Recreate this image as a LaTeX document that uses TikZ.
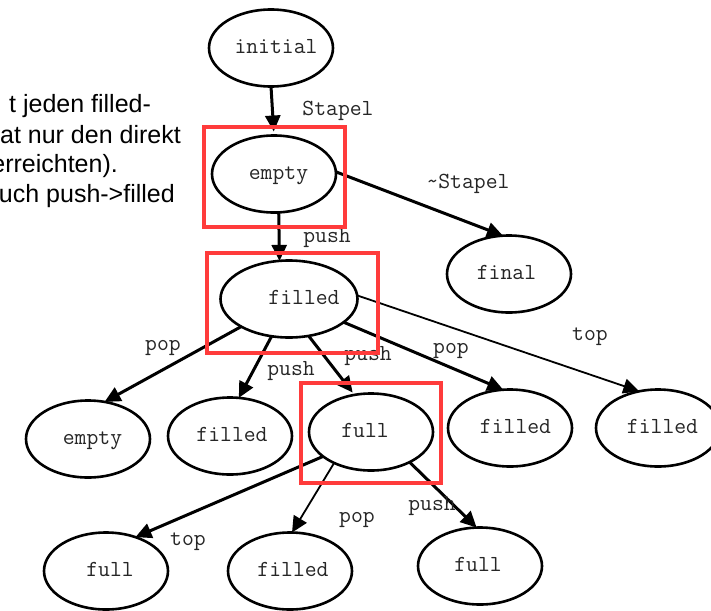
\documentclass[tikz,border=0pt]{standalone}
\usepackage{fontspec}
\setmainfont{Liberation Sans}
\usetikzlibrary{arrows.meta,shapes.geometric}
\definecolor{boxred}{RGB}{255,59,59}
\begin{document}
\begin{tikzpicture}[x=1pt,y=-1pt,
  stnode/.style={draw, ellipse, line width=2.6pt, minimum width=124pt,
    minimum height=77pt, inner sep=0pt, outer sep=0pt},
  widenode/.style={minimum width=137pt},
  statetext/.style={font=\ttfamily\fontsize{23}{27}\selectfont, text=black!85,
    text height=13pt, text depth=3pt, inner sep=0pt},
  trans/.style={line width=3pt, -{Triangle[length=16pt,width=15pt]}},
  transthin/.style={line width=1.8pt, -{Triangle[length=16pt,width=15pt]}},
  elabel/.style={font=\ttfamily\fontsize{23}{27}\selectfont, text=black!85,
    anchor=base, inner sep=0pt},
  focusbox/.style={draw=boxred, line width=4pt},
  notetext/.style={font=\fontsize{25}{30}\selectfont, anchor=base east, inner sep=0pt}
]
\useasboundingbox (0,0) rectangle (711,610);
\clip (0,0) rectangle (711,610);

% side note (runs past the left edge)
\node[notetext, anchor=base west] (n1) at (9,112) {t jeden filled-};
\node[notetext] (n2) at (181,143) {at nur den direkt};
\node[notetext] (n3) at (118,172) {erreichten).};
\node[notetext] (n4) at (175,202) {uch push->filled};

% states
\node[stnode, label={[statetext, xshift=5pt]center:initial}] (init) at (271,48) {};
\node[stnode, label={[statetext, xshift=4.5pt]center:empty}] (empty1) at (274,174) {};
\node[stnode, label={[statetext, xshift=-2.5pt]center:final}] (final) at (509,274) {};
\node[stnode, widenode, label={[statetext, xshift=15pt]center:filled}] (fill1) at (289,299) {};
\node[stnode, label={[statetext, xshift=4.5pt]center:empty}] (empty2) at (88,439) {};
\node[stnode, label={[statetext, xshift=2pt]center:filled}] (fill2) at (230,436) {};
\node[stnode, label={[statetext, xshift=-6pt]center:full}] (full1) at (371,432) {};
\node[stnode, label={[statetext, xshift=5.5pt]center:filled}] (fill3) at (510,428) {};
\node[stnode, label={[statetext, xshift=4.5pt]center:filled}] (fill4) at (658,428) {};
\node[stnode, label={[statetext, xshift=4pt]center:full}] (full2) at (106,571) {};
\node[stnode, label={[statetext, xshift=3pt]center:filled}] (fill5) at (290,571) {};
\node[stnode, label={[statetext, xshift=-2pt]center:full}] (full3) at (480,566) {};

% transitions
\draw[trans, shorten >=4pt] (init.south) -- (empty1.north);
\draw[trans] (empty1.2) -- (final.99);
\draw[trans] (empty1.-83) -- (fill1.104);
\draw[trans] (fill1.210) -- (empty2.66);
\draw[trans] (fill1.245) -- (fill2.77);
\draw[trans, shorten >=3pt] (fill1.-62) -- (full1.114);
\draw[trans] (fill1.-23) -- (fill3.100);
\draw[transthin] (fill1.3) -- (fill4.117);
\draw[trans] (full1.207) -- (full2.49);
\draw[transthin] (full1.220) -- (fill5.87);
\draw[trans] (full1.-38) -- (full3.95);

% transition labels
\node[elabel] (l1) at (338,115) {Stapel};
\node[elabel] (l2) at (468,188) {\char`\~Stapel};
\node[elabel] (l3) at (327,242) {push};
\node[elabel] (l4) at (163,350) {pop};
\node[elabel] (l5) at (291,375) {push};
\node[elabel] (l6) at (368,360) {push};
\node[elabel] (l7) at (451,353) {pop};
\node[elabel] (l8) at (590,340) {top};
\node[elabel] (l9) at (188,545) {top};
\node[elabel] (l10) at (357,522) {pop};
\node[elabel] (l11) at (432,510) {push};

% highlighted states
\draw[focusbox] (204,127) rectangle (345,227);
\draw[focusbox] (207,253) rectangle (378,353);
\draw[focusbox] (301,383) rectangle (441,483);
\end{tikzpicture}
\end{document}
